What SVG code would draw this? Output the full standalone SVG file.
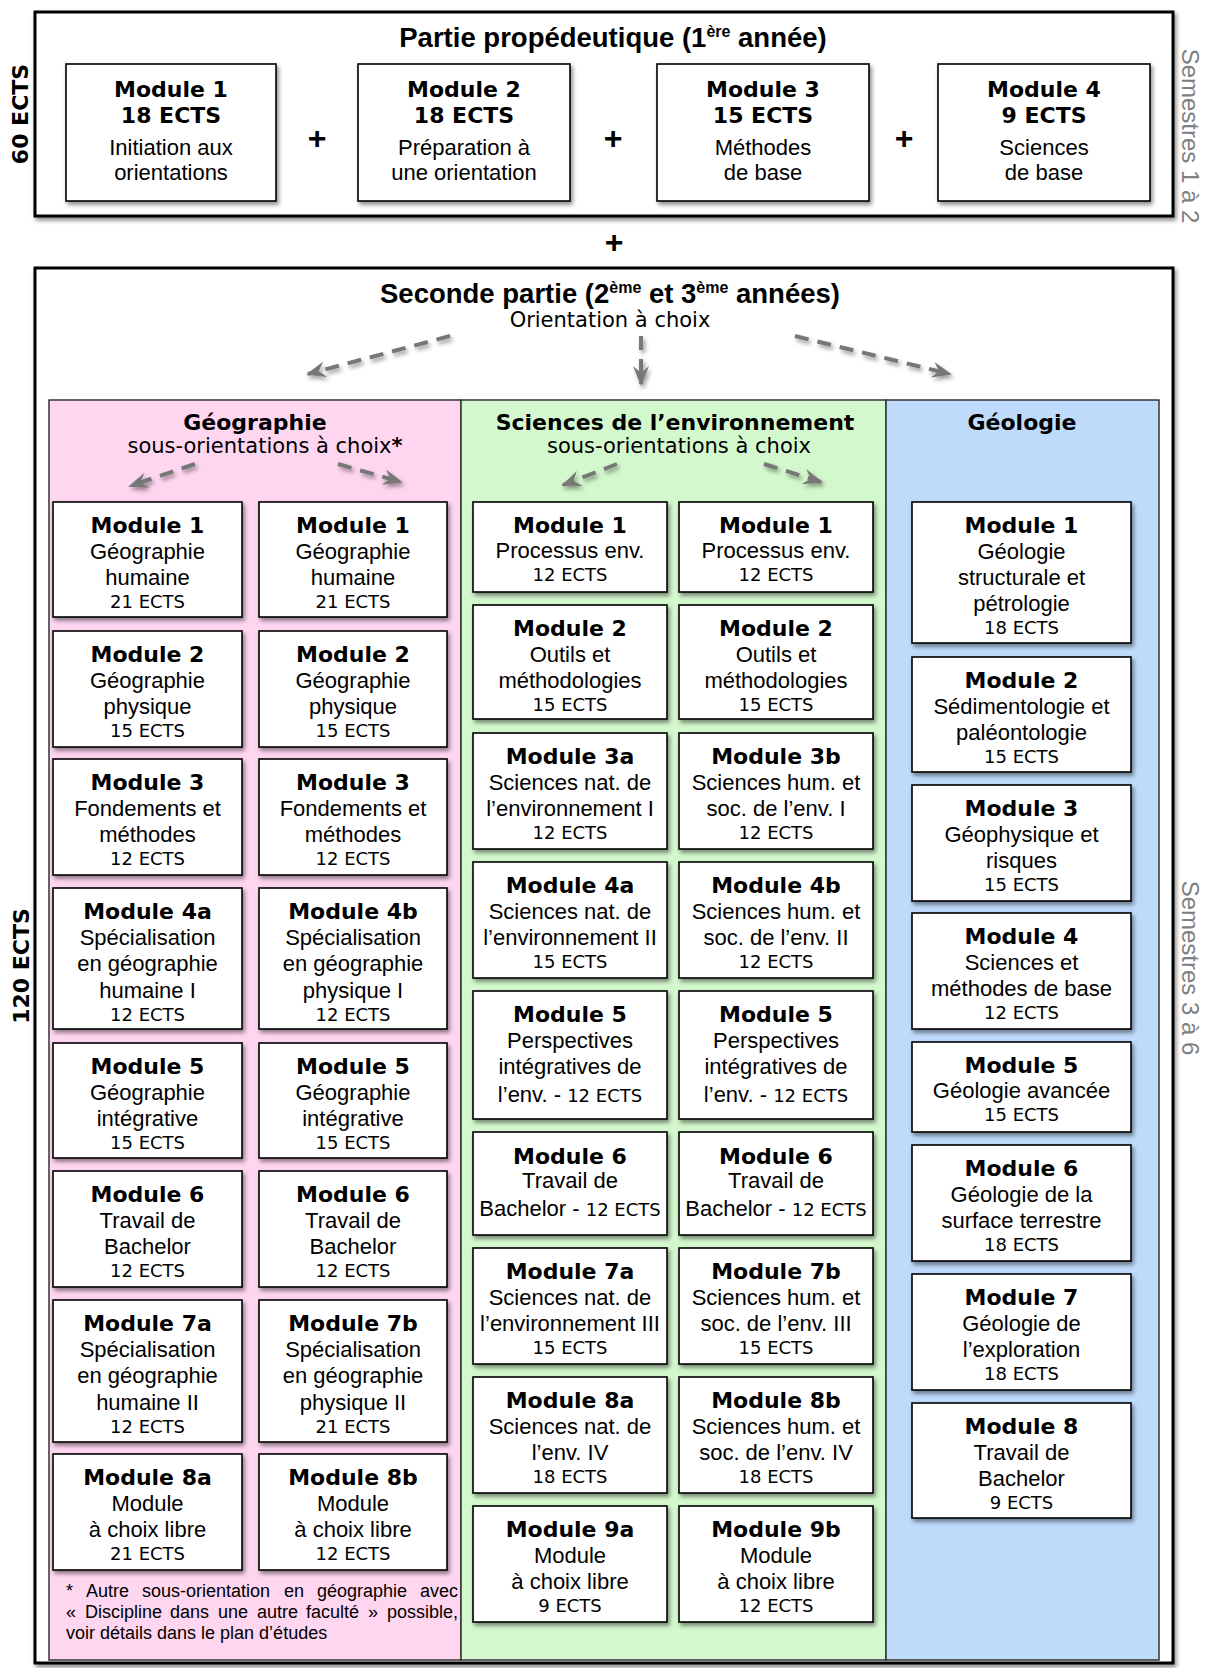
<svg xmlns="http://www.w3.org/2000/svg" width="1206" height="1668" viewBox="0 0 1206 1668">
<defs>
<filter id="sh" x="-10%" y="-10%" width="130%" height="130%"><feDropShadow dx="2" dy="3" stdDeviation="2" flood-color="#000" flood-opacity="0.45"/></filter>
<filter id="sha" filterUnits="userSpaceOnUse" x="0" y="0" width="1206" height="1668"><feDropShadow dx="2" dy="3" stdDeviation="2" flood-color="#000" flood-opacity="0.4"/></filter>
<marker id="ah" markerUnits="userSpaceOnUse" markerWidth="24" markerHeight="18" refX="18" refY="8" orient="auto"><path d="M0,0 L20,8 L0,16 L7,8 Z" fill="#777"/></marker>
<style>
.frame{fill:#fff;stroke:#000;stroke-width:3;filter:url(#sh)}
.box{fill:#fff;stroke:#000;stroke-width:1.6;filter:url(#sh)}
.panel{stroke:#333;stroke-width:1.5}
.t{font-family:"DejaVu Sans",Verdana,sans-serif;font-weight:bold;font-size:22px;text-anchor:middle;fill:#000}
.b{font-family:"Liberation Sans",Arial,sans-serif;font-size:22px;text-anchor:middle;fill:#000}
.e{font-family:"DejaVu Sans",Verdana,sans-serif;font-size:18px;text-anchor:middle;fill:#000}
.h{font-family:"Liberation Sans",Arial,sans-serif;font-weight:bold;font-size:27.5px;text-anchor:middle}
.s{font-family:"DejaVu Sans",Verdana,sans-serif;font-size:21px;text-anchor:middle}
.plus{font-family:"Liberation Sans",Arial,sans-serif;font-weight:bold;font-size:32px;text-anchor:middle}
.v{font-family:"Liberation Sans",Arial,sans-serif;font-size:24px;text-anchor:middle;fill:#808080}
.f{font-family:"Liberation Sans",Arial,sans-serif;font-size:18px}
.arr{fill:none;stroke:#777;stroke-width:4;stroke-dasharray:14 9;marker-end:url(#ah)}
</style>
</defs>
<rect width="1206" height="1668" fill="#fff"/>

<!-- Top part -->
<g id="propedeutique">
<rect class="frame" x="35" y="12" width="1138" height="204"/>
<text class="h" x="613" y="47">Partie propédeutique (1<tspan font-size="16" dy="-10">ère</tspan><tspan dy="10"> année)</tspan></text>
</g>
<g id="p-m1"><rect class="box" x="66" y="64" width="210" height="137"/><text class="t" x="171" y="97">Module 1</text><text class="t" x="171" y="123">18 ECTS</text><text class="b" x="171" y="155">Initiation aux</text><text class="b" x="171" y="180">orientations</text></g>
<g id="p-m2"><rect class="box" x="358" y="64" width="212" height="137"/><text class="t" x="464" y="97">Module 2</text><text class="t" x="464" y="123">18 ECTS</text><text class="b" x="464" y="155">Préparation à</text><text class="b" x="464" y="180">une orientation</text></g>
<g id="p-m3"><rect class="box" x="657" y="64" width="212" height="137"/><text class="t" x="763" y="97">Module 3</text><text class="t" x="763" y="123">15 ECTS</text><text class="b" x="763" y="155">Méthodes</text><text class="b" x="763" y="180">de base</text></g>
<g id="p-m4"><rect class="box" x="938" y="64" width="212" height="137"/><text class="t" x="1044" y="97">Module 4</text><text class="t" x="1044" y="123">9 ECTS</text><text class="b" x="1044" y="155">Sciences</text><text class="b" x="1044" y="180">de base</text></g>
<g id="plus-signs">
<text class="plus" x="317" y="149">+</text>
<text class="plus" x="613" y="149">+</text>
<text class="plus" x="904" y="149">+</text>
<text class="plus" x="614" y="253">+</text>
</g>
<text class="t" font-size="24.5" transform="translate(28,114) rotate(-90)">60 ECTS</text>
<text class="v" transform="translate(1182,136) rotate(90)">Semestres 1 à 2</text>

<!-- Second part -->
<g id="seconde">
<rect class="frame" x="35" y="268" width="1138" height="1395"/>
<text class="h" x="610" y="303">Seconde partie (2<tspan font-size="16" dy="-10">ème</tspan><tspan dy="10"> et 3</tspan><tspan font-size="16" dy="-10">ème</tspan><tspan dy="10"> années)</tspan></text>
<text class="s" x="610" y="327" font-size="23.5">Orientation à choix</text>
</g>
<text class="t" font-size="26.5" transform="translate(29,966) rotate(-90)">120 ECTS</text>
<text class="v" transform="translate(1182,968) rotate(90)">Semestres 3 à 6</text>

<g id="panel-geo">
<rect class="panel" x="49" y="400" width="412" height="1260" fill="#FFD6F0"/>
<text class="t" x="255" y="430">Géographie</text>
<text class="s" x="265" y="453" font-size="20.5">sous-orientations à choix<tspan font-weight="bold">*</tspan></text>
</g>
<g id="panel-env">
<rect class="panel" x="461" y="400" width="425" height="1260" fill="#D4F8CE"/>
<text class="t" x="675" y="430">Sciences de l’environnement</text>
<text class="s" x="679" y="453" font-size="20.5">sous-orientations à choix</text>
</g>
<g id="panel-geol">
<rect class="panel" x="886" y="400" width="273" height="1260" fill="#BEDBFC"/>
<text class="t" x="1022" y="430">Géologie</text>
</g>

<g id="connectors" filter="url(#sha)">
<line class="arr" x1="450" y1="336" x2="308" y2="374"/>
<line class="arr" x1="641" y1="336" x2="641" y2="384"/>
<line class="arr" x1="795" y1="336" x2="950" y2="374"/>
<line class="arr" x1="195" y1="464" x2="130" y2="486"/>
<line class="arr" x1="338" y1="464" x2="401" y2="482"/>
<line class="arr" x1="617" y1="464" x2="563" y2="485"/>
<line class="arr" x1="764" y1="464" x2="821" y2="482"/>
</g>

<!-- Geography left -->
<g id="geo-a1"><rect class="box" x="53" y="502" width="189" height="115"/><text class="t" x="147.5" y="533">Module 1</text><text class="b" x="147.5" y="559">Géographie</text><text class="b" x="147.5" y="585">humaine</text><text class="e" x="147.5" y="608">21 ECTS</text></g>
<g id="geo-a2"><rect class="box" x="53" y="631" width="189" height="116"/><text class="t" x="147.5" y="662">Module 2</text><text class="b" x="147.5" y="688">Géographie</text><text class="b" x="147.5" y="714">physique</text><text class="e" x="147.5" y="737">15 ECTS</text></g>
<g id="geo-a3"><rect class="box" x="53" y="759" width="189" height="116"/><text class="t" x="147.5" y="790">Module 3</text><text class="b" x="147.5" y="816">Fondements et</text><text class="b" x="147.5" y="842">méthodes</text><text class="e" x="147.5" y="865">12 ECTS</text></g>
<g id="geo-a4"><rect class="box" x="53" y="888" width="189" height="141"/><text class="t" x="147.5" y="919">Module 4a</text><text class="b" x="147.5" y="945">Spécialisation</text><text class="b" x="147.5" y="971">en géographie</text><text class="b" x="147.5" y="998">humaine I</text><text class="e" x="147.5" y="1021">12 ECTS</text></g>
<g id="geo-a5"><rect class="box" x="53" y="1043" width="189" height="115"/><text class="t" x="147.5" y="1074">Module 5</text><text class="b" x="147.5" y="1100">Géographie</text><text class="b" x="147.5" y="1126">intégrative</text><text class="e" x="147.5" y="1149">15 ECTS</text></g>
<g id="geo-a6"><rect class="box" x="53" y="1171" width="189" height="116"/><text class="t" x="147.5" y="1202">Module 6</text><text class="b" x="147.5" y="1228">Travail de</text><text class="b" x="147.5" y="1254">Bachelor</text><text class="e" x="147.5" y="1277">12 ECTS</text></g>
<g id="geo-a7"><rect class="box" x="53" y="1300" width="189" height="142"/><text class="t" x="147.5" y="1331">Module 7a</text><text class="b" x="147.5" y="1357">Spécialisation</text><text class="b" x="147.5" y="1383">en géographie</text><text class="b" x="147.5" y="1410">humaine II</text><text class="e" x="147.5" y="1433">12 ECTS</text></g>
<g id="geo-a8"><rect class="box" x="53" y="1454" width="189" height="116"/><text class="t" x="147.5" y="1485">Module 8a</text><text class="b" x="147.5" y="1511">Module</text><text class="b" x="147.5" y="1537">à choix libre</text><text class="e" x="147.5" y="1560">21 ECTS</text></g>

<!-- Geography right -->
<g id="geo-b1"><rect class="box" x="259" y="502" width="188" height="115"/><text class="t" x="353" y="533">Module 1</text><text class="b" x="353" y="559">Géographie</text><text class="b" x="353" y="585">humaine</text><text class="e" x="353" y="608">21 ECTS</text></g>
<g id="geo-b2"><rect class="box" x="259" y="631" width="188" height="116"/><text class="t" x="353" y="662">Module 2</text><text class="b" x="353" y="688">Géographie</text><text class="b" x="353" y="714">physique</text><text class="e" x="353" y="737">15 ECTS</text></g>
<g id="geo-b3"><rect class="box" x="259" y="759" width="188" height="116"/><text class="t" x="353" y="790">Module 3</text><text class="b" x="353" y="816">Fondements et</text><text class="b" x="353" y="842">méthodes</text><text class="e" x="353" y="865">12 ECTS</text></g>
<g id="geo-b4"><rect class="box" x="259" y="888" width="188" height="141"/><text class="t" x="353" y="919">Module 4b</text><text class="b" x="353" y="945">Spécialisation</text><text class="b" x="353" y="971">en géographie</text><text class="b" x="353" y="998">physique I</text><text class="e" x="353" y="1021">12 ECTS</text></g>
<g id="geo-b5"><rect class="box" x="259" y="1043" width="188" height="115"/><text class="t" x="353" y="1074">Module 5</text><text class="b" x="353" y="1100">Géographie</text><text class="b" x="353" y="1126">intégrative</text><text class="e" x="353" y="1149">15 ECTS</text></g>
<g id="geo-b6"><rect class="box" x="259" y="1171" width="188" height="116"/><text class="t" x="353" y="1202">Module 6</text><text class="b" x="353" y="1228">Travail de</text><text class="b" x="353" y="1254">Bachelor</text><text class="e" x="353" y="1277">12 ECTS</text></g>
<g id="geo-b7"><rect class="box" x="259" y="1300" width="188" height="142"/><text class="t" x="353" y="1331">Module 7b</text><text class="b" x="353" y="1357">Spécialisation</text><text class="b" x="353" y="1383">en géographie</text><text class="b" x="353" y="1410">physique II</text><text class="e" x="353" y="1433">21 ECTS</text></g>
<g id="geo-b8"><rect class="box" x="259" y="1454" width="188" height="116"/><text class="t" x="353" y="1485">Module 8b</text><text class="b" x="353" y="1511">Module</text><text class="b" x="353" y="1537">à choix libre</text><text class="e" x="353" y="1560">12 ECTS</text></g>

<g id="geo-note">
<text class="f" y="1597"><tspan x="66">*</tspan><tspan x="86">Autre</tspan><tspan x="142">sous-orientation</tspan><tspan x="284">en</tspan><tspan x="317">géographie</tspan></text>
<text class="f" x="458" y="1597" text-anchor="end">avec</text>
<text class="f" y="1618"><tspan x="66">«</tspan><tspan x="85">Discipline</tspan><tspan x="170">dans</tspan><tspan x="218">une</tspan><tspan x="257">autre</tspan><tspan x="306">faculté</tspan><tspan x="368">»</tspan></text>
<text class="f" x="458" y="1618" text-anchor="end">possible,</text>
<text class="f" x="66" y="1639">voir détails dans le plan d’études</text>
</g>

<!-- Environment left -->
<g id="env-a1"><rect class="box" x="473" y="502" width="194" height="90"/><text class="t" x="570" y="533">Module 1</text><text class="b" x="570" y="558">Processus env.</text><text class="e" x="570" y="581">12 ECTS</text></g>
<g id="env-a2"><rect class="box" x="473" y="605" width="194" height="114"/><text class="t" x="570" y="636">Module 2</text><text class="b" x="570" y="662">Outils et</text><text class="b" x="570" y="688">méthodologies</text><text class="e" x="570" y="711">15 ECTS</text></g>
<g id="env-a3"><rect class="box" x="473" y="733" width="194" height="116"/><text class="t" x="570" y="764">Module 3a</text><text class="b" x="570" y="790">Sciences nat. de</text><text class="b" x="570" y="816">l’environnement I</text><text class="e" x="570" y="839">12 ECTS</text></g>
<g id="env-a4"><rect class="box" x="473" y="862" width="194" height="116"/><text class="t" x="570" y="893">Module 4a</text><text class="b" x="570" y="919">Sciences nat. de</text><text class="b" x="570" y="945">l’environnement II</text><text class="e" x="570" y="968">15 ECTS</text></g>
<g id="env-a5"><rect class="box" x="473" y="991" width="194" height="128"/><text class="t" x="570" y="1022">Module 5</text><text class="b" x="570" y="1048">Perspectives</text><text class="b" x="570" y="1074">intégratives de</text><text class="b" x="570" y="1102">l’env. - <tspan class="e" font-size="18">12 ECTS</tspan></text></g>
<g id="env-a6"><rect class="box" x="473" y="1132" width="194" height="103"/><text class="t" x="570" y="1164">Module 6</text><text class="b" x="570" y="1188">Travail de</text><text class="b" x="570" y="1216">Bachelor - <tspan class="e" font-size="18">12 ECTS</tspan></text></g>
<g id="env-a7"><rect class="box" x="473" y="1248" width="194" height="116"/><text class="t" x="570" y="1279">Module 7a</text><text class="b" x="570" y="1305">Sciences nat. de</text><text class="b" x="570" y="1331">l’environnement III</text><text class="e" x="570" y="1354">15 ECTS</text></g>
<g id="env-a8"><rect class="box" x="473" y="1377" width="194" height="116"/><text class="t" x="570" y="1408">Module 8a</text><text class="b" x="570" y="1434">Sciences nat. de</text><text class="b" x="570" y="1460">l’env. IV</text><text class="e" x="570" y="1483">18 ECTS</text></g>
<g id="env-a9"><rect class="box" x="473" y="1506" width="194" height="116"/><text class="t" x="570" y="1537">Module 9a</text><text class="b" x="570" y="1563">Module</text><text class="b" x="570" y="1589">à choix libre</text><text class="e" x="570" y="1612">9 ECTS</text></g>

<!-- Environment right -->
<g id="env-b1"><rect class="box" x="679" y="502" width="194" height="90"/><text class="t" x="776" y="533">Module 1</text><text class="b" x="776" y="558">Processus env.</text><text class="e" x="776" y="581">12 ECTS</text></g>
<g id="env-b2"><rect class="box" x="679" y="605" width="194" height="114"/><text class="t" x="776" y="636">Module 2</text><text class="b" x="776" y="662">Outils et</text><text class="b" x="776" y="688">méthodologies</text><text class="e" x="776" y="711">15 ECTS</text></g>
<g id="env-b3"><rect class="box" x="679" y="733" width="194" height="116"/><text class="t" x="776" y="764">Module 3b</text><text class="b" x="776" y="790">Sciences hum. et</text><text class="b" x="776" y="816">soc. de l’env. I</text><text class="e" x="776" y="839">12 ECTS</text></g>
<g id="env-b4"><rect class="box" x="679" y="862" width="194" height="116"/><text class="t" x="776" y="893">Module 4b</text><text class="b" x="776" y="919">Sciences hum. et</text><text class="b" x="776" y="945">soc. de l’env. II</text><text class="e" x="776" y="968">12 ECTS</text></g>
<g id="env-b5"><rect class="box" x="679" y="991" width="194" height="128"/><text class="t" x="776" y="1022">Module 5</text><text class="b" x="776" y="1048">Perspectives</text><text class="b" x="776" y="1074">intégratives de</text><text class="b" x="776" y="1102">l’env. - <tspan class="e" font-size="18">12 ECTS</tspan></text></g>
<g id="env-b6"><rect class="box" x="679" y="1132" width="194" height="103"/><text class="t" x="776" y="1164">Module 6</text><text class="b" x="776" y="1188">Travail de</text><text class="b" x="776" y="1216">Bachelor - <tspan class="e" font-size="18">12 ECTS</tspan></text></g>
<g id="env-b7"><rect class="box" x="679" y="1248" width="194" height="116"/><text class="t" x="776" y="1279">Module 7b</text><text class="b" x="776" y="1305">Sciences hum. et</text><text class="b" x="776" y="1331">soc. de l’env. III</text><text class="e" x="776" y="1354">15 ECTS</text></g>
<g id="env-b8"><rect class="box" x="679" y="1377" width="194" height="116"/><text class="t" x="776" y="1408">Module 8b</text><text class="b" x="776" y="1434">Sciences hum. et</text><text class="b" x="776" y="1460">soc. de l’env. IV</text><text class="e" x="776" y="1483">18 ECTS</text></g>
<g id="env-b9"><rect class="box" x="679" y="1506" width="194" height="116"/><text class="t" x="776" y="1537">Module 9b</text><text class="b" x="776" y="1563">Module</text><text class="b" x="776" y="1589">à choix libre</text><text class="e" x="776" y="1612">12 ECTS</text></g>

<!-- Geology -->
<g id="geol-1"><rect class="box" x="912" y="502" width="219" height="141"/><text class="t" x="1021.5" y="533">Module 1</text><text class="b" x="1021.5" y="559">Géologie</text><text class="b" x="1021.5" y="585">structurale et</text><text class="b" x="1021.5" y="611">pétrologie</text><text class="e" x="1021.5" y="634">18 ECTS</text></g>
<g id="geol-2"><rect class="box" x="912" y="657" width="219" height="115"/><text class="t" x="1021.5" y="688">Module 2</text><text class="b" x="1021.5" y="714">Sédimentologie et</text><text class="b" x="1021.5" y="740">paléontologie</text><text class="e" x="1021.5" y="763">15 ECTS</text></g>
<g id="geol-3"><rect class="box" x="912" y="785" width="219" height="116"/><text class="t" x="1021.5" y="816">Module 3</text><text class="b" x="1021.5" y="842">Géophysique et</text><text class="b" x="1021.5" y="868">risques</text><text class="e" x="1021.5" y="891">15 ECTS</text></g>
<g id="geol-4"><rect class="box" x="912" y="913" width="219" height="116"/><text class="t" x="1021.5" y="944">Module 4</text><text class="b" x="1021.5" y="970">Sciences et</text><text class="b" x="1021.5" y="996">méthodes de base</text><text class="e" x="1021.5" y="1019">12 ECTS</text></g>
<g id="geol-5"><rect class="box" x="912" y="1042" width="219" height="90"/><text class="t" x="1021.5" y="1073">Module 5</text><text class="b" x="1021.5" y="1098">Géologie avancée</text><text class="e" x="1021.5" y="1121">15 ECTS</text></g>
<g id="geol-6"><rect class="box" x="912" y="1145" width="219" height="116"/><text class="t" x="1021.5" y="1176">Module 6</text><text class="b" x="1021.5" y="1202">Géologie de la</text><text class="b" x="1021.5" y="1228">surface terrestre</text><text class="e" x="1021.5" y="1251">18 ECTS</text></g>
<g id="geol-7"><rect class="box" x="912" y="1274" width="219" height="116"/><text class="t" x="1021.5" y="1305">Module 7</text><text class="b" x="1021.5" y="1331">Géologie de</text><text class="b" x="1021.5" y="1357">l’exploration</text><text class="e" x="1021.5" y="1380">18 ECTS</text></g>
<g id="geol-8"><rect class="box" x="912" y="1403" width="219" height="115"/><text class="t" x="1021.5" y="1434">Module 8</text><text class="b" x="1021.5" y="1460">Travail de</text><text class="b" x="1021.5" y="1486">Bachelor</text><text class="e" x="1021.5" y="1509">9 ECTS</text></g>
</svg>
